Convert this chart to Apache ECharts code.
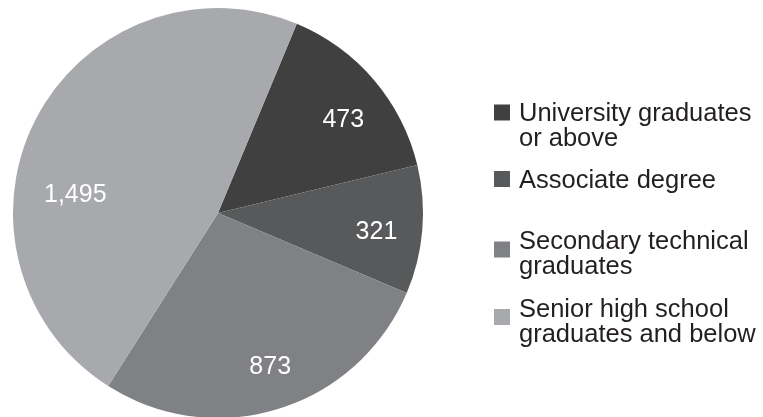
<!DOCTYPE html>
<html>
<head>
<meta charset="utf-8">
<style>
  html, body { margin: 0; padding: 0; background: #ffffff; }
  #chart { width: 763px; height: 417px; }
</style>
<script src="https://cdn.jsdelivr.net/npm/echarts@6/dist/echarts.min.js"></script>
</head>
<body>
<div id="chart"></div>
<script>
const categories = [
  'University graduates or above',
  'Associate degree',
  'Secondary technical graduates',
  'Senior high school graduates and below'
];
const values = [473, 321, 873, 1495];
const legendLines = [
  ['University graduates', 'or above'],
  ['Associate degree'],
  ['Secondary technical', 'graduates'],
  ['Senior high school', 'graduates and below']
];
const colors = ['#404041', '#58595b', '#808184', '#a7a9ac'];

const FONT = '"Liberation Sans", Arial, Helvetica, sans-serif';
const textColor = '#231f20';

// legend layout (spacer line height, top) per item
const legendLayout = [
  { spacer: 28, top: 87 },
  { spacer: 4, top: 166 },
  { spacer: 10, top: 224 },
  { spacer: 11, top: 291.5 }
];
// fine nudges of the value labels inside the slices
const labelNudge = [[2, 12], [-3, 6], [4, -1], [1, 57]];

const pieData = categories.map((name, i) => ({
  name: name,
  value: values[i],
  itemStyle: { color: colors[i] }
}));

const rich = { a: { fontSize: 25.5, lineHeight: 25, padding: [0, 0, 0, 4], color: textColor, fontFamily: FONT } };
legendLayout.forEach((l, i) => {
  rich['s' + i] = { fontSize: 1, lineHeight: l.spacer };
});

const legends = categories.map((name, i) => ({
  show: true,
  left: 494,
  top: legendLayout[i].top,
  padding: 0,
  orient: 'vertical',
  itemWidth: 16,
  itemHeight: 16,
  icon: 'rect',
  selectedMode: false,
  data: [name],
  formatter: function () {
    return '{s' + i + '| }\n' + legendLines[i].map(t => '{a|' + t + '}').join('\n');
  },
  textStyle: { rich: rich, color: textColor, fontFamily: FONT }
}));

const option = {
  animation: false,
  backgroundColor: '#ffffff',
  legend: legends,
  series: [
    {
      type: 'pie',
      center: [218, 213],
      radius: [0, 205],
      startAngle: 67.4,
      clockwise: true,
      silent: true,
      label: { show: false },
      labelLine: { show: false },
      itemStyle: { borderWidth: 0 },
      emphasis: { disabled: true },
      data: pieData
    },
    {
      type: 'pie',
      center: [218, 213],
      radius: [113, 205],
      startAngle: 67.4,
      clockwise: true,
      silent: true,
      itemStyle: { color: 'rgba(0,0,0,0)', borderWidth: 0 },
      emphasis: { disabled: true },
      labelLine: { show: false },
      label: {
        show: true,
        position: 'inside',
        color: '#ffffff',
        fontSize: 25,
        fontFamily: FONT,
        formatter: p => p.value.toLocaleString('en-US')
      },
      labelLayout: function (params) {
        const n = labelNudge[params.dataIndex];
        return { dx: n[0], dy: n[1] };
      },
      data: categories.map((name, i) => ({ name: name, value: values[i] }))
    }
  ]
};

const chart = echarts.init(document.getElementById('chart'), null, { renderer: 'canvas' });
chart.setOption(option);
</script>
</body>
</html>
